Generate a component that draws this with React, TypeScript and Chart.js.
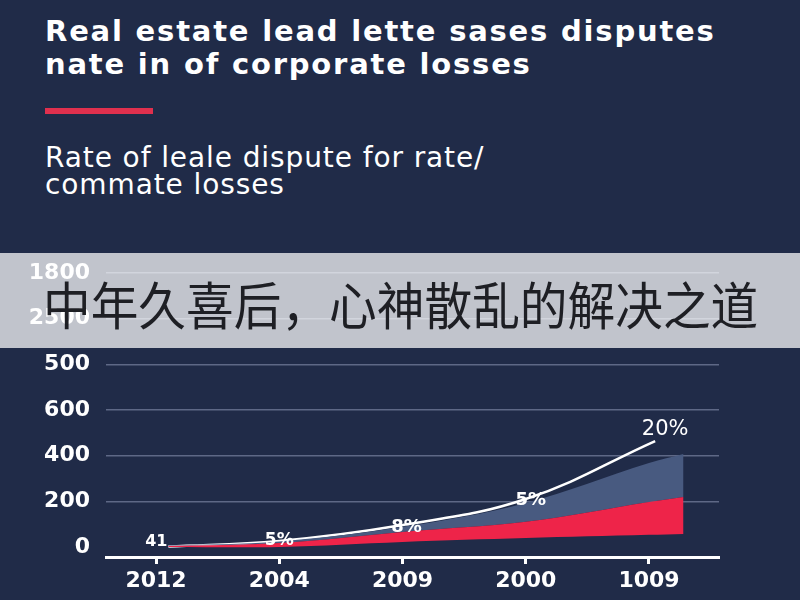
import React, { useEffect, useRef } from "react";
import { Chart, registerables } from "chart.js";

Chart.register(...registerables);

// ---- data ----
const yearLabels = ["2012", "2004", "2009", "2000", "1009"];
const yTickValues = [0, 200, 400, 600, 800, 1000, 1200];
const yTickLabels = ["0", "200", "400", "600", "500", "2500", "1800"];

const areaX = [0.1, 1, 2, 3, 4, 4.28];
const baseValues = [0, 0, 22, 39, 53, 57];
const redValues = [4, 17, 44, 71, 144, 162];
const blueValues = [2, 7, 22, 83, 171, 188];

const lineX = [0.1, 1, 2, 3, 4.05];
const lineValues = [2, 26, 96, 210, 464];
const pointLabels = ["41", "5%", "8%", "5%", "20%"];

// ---- styles ----
const BG = "#202b48";
const RED = "#ee2449";
const BLUE = "#485a80";
const labelOffsets = [
  [-12, -5],
  [0, 0],
  [4, 2],
  [5, 1],
  [10, -11],
];
const labelFonts = [
  "bold 16px 'DejaVu Sans'",
  "bold 17px 'DejaVu Sans'",
  "bold 18px 'DejaVu Sans'",
  "bold 18px 'DejaVu Sans'",
  "21px 'DejaVu Sans'",
];

const toPoints = (xs: number[], ys: number[]) => xs.map((x, i) => ({ x, y: ys[i] }));

const labelPlugin = {
  id: "pointLabels",
  afterDatasetsDraw(chart: any) {
    const meta = chart.getDatasetMeta(3);
    const ctx = chart.ctx;
    ctx.save();
    ctx.fillStyle = "#ffffff";
    ctx.textAlign = "center";
    ctx.textBaseline = "middle";
    meta.data.forEach((pt: any, i: number) => {
      ctx.font = labelFonts[i];
      ctx.fillText(pointLabels[i], pt.x + labelOffsets[i][0], pt.y + labelOffsets[i][1]);
    });
    ctx.restore();
  },
};

const Y_MIN = -44;
const Y_MAX = 1200;

function AreaChart() {
  const ref = useRef<HTMLCanvasElement | null>(null);
  useEffect(() => {
    if (!ref.current) return;
    const tickFont = { family: "'DejaVu Sans'", size: 22, weight: "bold" as const };
    const chart = new Chart(ref.current, {
      type: "line",
      data: {
        datasets: [
          {
            label: "base",
            data: toPoints(areaX, baseValues),
            borderWidth: 0,
            pointRadius: 0,
            fill: false,
            tension: 0.35,
            backgroundColor: "rgba(0,0,0,0)",
            borderColor: "rgba(0,0,0,0)",
          },
          {
            label: "red",
            data: toPoints(areaX, redValues),
            borderWidth: 0,
            pointRadius: 0,
            fill: "-1",
            tension: 0.35,
            backgroundColor: RED,
            borderColor: RED,
          },
          {
            label: "blue",
            data: toPoints(areaX, blueValues),
            borderWidth: 0,
            pointRadius: 0,
            fill: "-1",
            tension: 0.35,
            backgroundColor: BLUE,
            borderColor: BLUE,
          },
          {
            label: "rate",
            data: toPoints(lineX, lineValues),
            yAxisID: "yLine",
            borderWidth: 2.5,
            pointRadius: 0,
            fill: false,
            tension: 0.4,
            borderColor: "#ffffff",
          },
        ],
      },
      options: {
        animation: false,
        responsive: false,
        maintainAspectRatio: false,
        layout: { padding: { left: 0, right: 81, top: 33, bottom: 0 } },
        plugins: {
          legend: { display: false },
          tooltip: { enabled: false },
          title: { display: false },
        },
        scales: {
          x: {
            type: "linear",
            min: -0.406,
            max: 4.568,
            afterBuildTicks: (s: any) => {
              s.ticks = yearLabels.map((_, i) => ({ value: i }));
            },
            afterFit: (s: any) => {
              s.height = 43;
            },
            ticks: {
              callback: (v: any) => yearLabels[Math.round(Number(v))] ?? "",
              color: "#ffffff",
              font: tickFont,
              padding: 4,
              autoSkip: false,
              maxRotation: 0,
            },
            grid: {
              drawOnChartArea: false,
              drawTicks: true,
              tickLength: 7,
              tickColor: "#ffffff",
              tickWidth: 3,
            },
            border: { display: true, color: "#ffffff", width: 3 },
          },
          y: {
            type: "linear",
            stacked: true,
            min: Y_MIN,
            max: Y_MAX,
            afterBuildTicks: (s: any) => {
              s.ticks = yTickValues.map((v) => ({ value: v }));
            },
            afterFit: (s: any) => {
              s.width = 106;
            },
            ticks: {
              callback: (v: any) => yTickLabels[yTickValues.indexOf(Number(v))] ?? "",
              color: "#ffffff",
              font: tickFont,
              padding: 16,
            },
            grid: {
              color: (c: any) =>
                c.tick && c.tick.value === 0 ? "rgba(0,0,0,0)" : "rgba(170,180,210,0.45)",
              lineWidth: 1.5,
              drawTicks: false,
            },
            border: { display: false },
          },
          yLine: {
            type: "linear",
            display: false,
            stacked: false,
            min: Y_MIN,
            max: Y_MAX,
          },
        },
      },
      plugins: [labelPlugin],
    });
    return () => chart.destroy();
  }, []);
  return <canvas ref={ref} width={800} height={360} style={{ display: "block", width: 800, height: 360 }} />;
}

export default function App() {
  return (
    <div
      style={{
        position: "fixed",
        left: 0,
        top: 0,
        width: 800,
        height: 600,
        background: BG,
        overflow: "hidden",
      }}
    >
      <div
        style={{
          position: "absolute",
          left: 45,
          top: 15,
          fontFamily: "'DejaVu Sans', sans-serif",
          fontWeight: 700,
          fontSize: 29,
          lineHeight: "33px",
          letterSpacing: "1.8px",
          color: "#ffffff",
          whiteSpace: "nowrap",
        }}
      >
        Real estate lead lette sases disputes
        <br />
        nate in of corporate losses
      </div>
      <div
        style={{
          position: "absolute",
          left: 45,
          top: 108,
          width: 108,
          height: 6,
          background: "#e0304e",
        }}
      />
      <div
        style={{
          position: "absolute",
          left: 45,
          top: 144,
          fontFamily: "'DejaVu Sans', sans-serif",
          fontWeight: 400,
          fontSize: 28,
          lineHeight: "27px",
          letterSpacing: "0.9px",
          color: "#ffffff",
          whiteSpace: "nowrap",
        }}
      >
        Rate of leale dispute for rate/
        <br />
        commate losses
      </div>
      <div style={{ position: "absolute", left: 0, top: 240 }}>
        <AreaChart />
      </div>
      <div
        style={{
          position: "absolute",
          left: 0,
          top: 253,
          width: 800,
          height: 95,
          background: "rgba(255,255,255,0.72)",
        }}
      />
      <div
        style={{
          position: "absolute",
          left: 43,
          top: 278,
          fontFamily: "'Noto Sans CJK SC', sans-serif",
          fontSize: 51,
          lineHeight: "51px",
          color: "#1e1f24",
          whiteSpace: "nowrap",
          transform: "scaleX(0.935)",
          transformOrigin: "0 0",
        }}
      >
        中年久喜后，心神散乱的解决之道
      </div>
    </div>
  );
}
